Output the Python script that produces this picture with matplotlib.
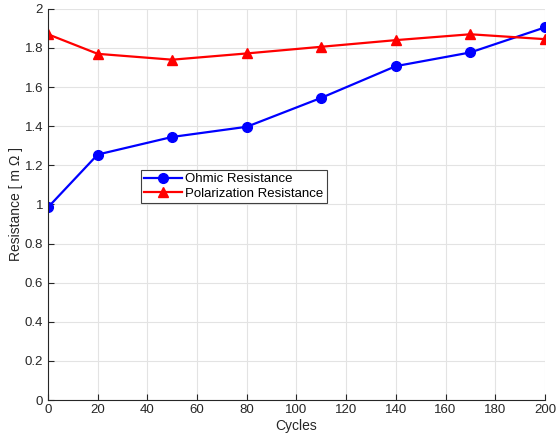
import matplotlib
matplotlib.use('Agg')
import matplotlib.pyplot as plt

# data
cycles = [0, 20, 50, 80, 110, 140, 170, 200]
ohmic = [0.985, 1.255, 1.345, 1.397, 1.545, 1.707, 1.777, 1.905]
polar = [1.87, 1.77, 1.74, 1.772, 1.806, 1.84, 1.87, 1.845]
xticks = list(range(0, 201, 20))
yticks = [0, 0.2, 0.4, 0.6, 0.8, 1, 1.2, 1.4, 1.6, 1.8, 2]
ytick_labels = ['0', '0.2', '0.4', '0.6', '0.8', '1', '1.2', '1.4', '1.6', '1.8', '2']

plt.rcParams['font.family'] = ['Liberation Sans', 'DejaVu Sans']

fig = plt.figure(figsize=(5.56, 4.42), dpi=100)
ax = fig.add_axes([0.0863, 0.095, 0.8937, 0.885])

ax.plot(cycles, ohmic, '-o', color='#0000ff', lw=1.6, ms=7, label='Ohmic Resistance')
ax.plot(cycles, polar, '-^', color='#ff0000', lw=1.6, ms=7, label='Polarization Resistance')

ax.set_xlim(0, 200)
ax.set_ylim(0, 2)
ax.set_xticks(xticks)
ax.set_yticks(yticks)
ax.set_yticklabels(ytick_labels)
ax.grid(True, color='#e3e3e3', lw=0.8)
ax.set_axisbelow(True)
for s in ['top', 'right']:
    ax.spines[s].set_visible(False)
for s in ['left', 'bottom']:
    ax.spines[s].set_color('#262626')
    ax.spines[s].set_linewidth(0.8)
ax.tick_params(direction='in', length=4, labelsize=9.5, colors='#262626', width=0.8)
ax.tick_params(axis='x', pad=3)
ax.set_xlabel('Cycles', fontsize=10, color='#262626', labelpad=2)
ax.set_ylabel('Resistance [ m \u03a9 ]', fontsize=10, color='#262626', labelpad=1)

leg = ax.legend(loc='lower left', bbox_to_anchor=(0.187, 0.504, 0.375, 0.097), mode='expand',
                fontsize=9.5, fancybox=False, framealpha=1, edgecolor='#404040',
                borderaxespad=0, borderpad=0.25, handlelength=2.9, handletextpad=0.2,
                labelspacing=0.15)
leg.get_frame().set_linewidth(0.8)

fig.savefig('out.png', dpi=100)
